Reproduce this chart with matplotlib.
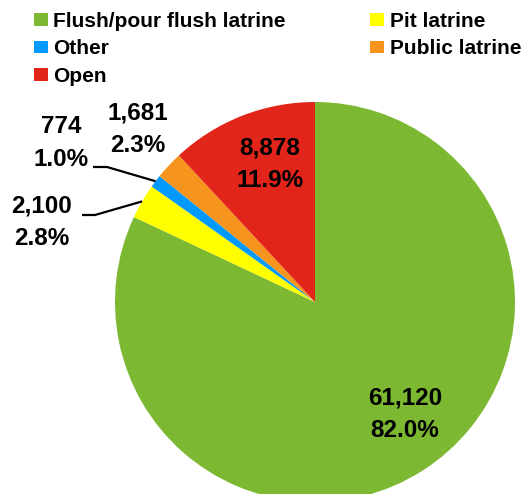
"""
Pie chart of sanitation type (counts and shares).
"""

import numpy as np
import matplotlib
matplotlib.use("Agg")
import matplotlib.pyplot as plt
from matplotlib.patches import Patch

categories = ["Flush/pour flush latrine", "Pit latrine", "Other",
              "Public latrine", "Open"]
households = [61120, 2100, 774, 1681, 8878]
colors = ["#7DB832", "#FFFF00", "#0099FF", "#F7941E", "#E1251B"]

W, H = 531, 494
CENTER = (315, H - 302)
RADIUS = 200


def px(x, y):
    # picture pixel (y down) to axes data (y up)
    return x, H - y


def label_text(value, total):
    return "{:,}\n{:.1f}%".format(value, 100 * value / total)


def main():
    plt.rcParams["font.family"] = ["Liberation Sans Narrow",
                                   "Liberation Sans", "DejaVu Sans"]
    plt.rcParams["font.weight"] = "bold"
    fig = plt.figure(figsize=(W / 100, H / 100), dpi=100)
    ax = fig.add_axes([0, 0, 1, 1])

    wedges, _ = ax.pie(households, colors=colors, startangle=90,
                       counterclock=False, center=CENTER, radius=RADIUS,
                       wedgeprops=dict(linewidth=0))
    ax.set_xlim(0, W)
    ax.set_ylim(0, H)
    ax.set_aspect("equal")
    ax.set_position([0, 0, 1, 1])
    ax.axis("off")
    total = sum(households)

    # text spots for each slice label, and optional elbow of leader line
    spots = {
        "Flush/pour flush latrine": ((405, 414), None),
        "Pit latrine": ((42, 222), (82, 95, 215)),
        "Other": ((61, 143), (93, 107, 167)),
        "Public latrine": ((138, 129), None),
        "Open": ((270, 164), None),
    }
    for w, cat, val in zip(wedges, categories, households):
        (tx, ty), leader = spots[cat]
        ax.text(*px(tx, ty), label_text(val, total), ha="center",
                va="center", fontsize=17.5, fontweight="bold",
                linespacing=1.55, color="black")
        if leader is not None:
            mid = np.deg2rad((w.theta1 + w.theta2) / 2)
            ex = CENTER[0] + RADIUS * np.cos(mid)
            ey = CENTER[1] + RADIUS * np.sin(mid)
            x0, x1, ly = leader
            ax.plot([x0, x1, ex], [H - ly, H - ly, ey], color="black",
                    linewidth=1.6, solid_capstyle="butt")

    # legend laid out row by row, as in the original
    order = [0, 2, 4, 1, 3]
    handles = [Patch(facecolor=colors[i], label=categories[i])
               for i in order]
    ax.legend(handles=handles, ncol=2, loc="upper left",
              bbox_to_anchor=(34 / W, 1 - 12 / H), frameon=False,
              fontsize=15, handlelength=0.67, handleheight=0.55,
              handletextpad=0.25, labelspacing=0.4, columnspacing=4.07,
              borderpad=0, borderaxespad=0)

    fig.savefig("out.png", dpi=100)


if __name__ == "__main__":
    main()
